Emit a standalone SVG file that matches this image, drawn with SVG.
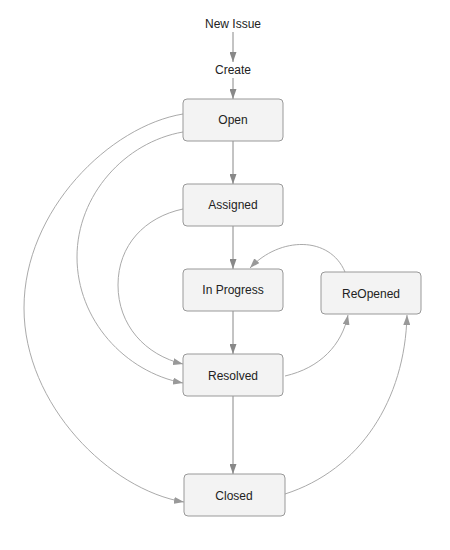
<svg xmlns="http://www.w3.org/2000/svg" width="450" height="550" viewBox="0 0 450 550">
<defs>
<style>
.node rect{fill:#f3f3f3;stroke:#999;stroke-width:1}
text{font-family:"Liberation Sans",Arial,sans-serif;font-size:12px;fill:#222;text-anchor:middle;dominant-baseline:central}
.edge{fill:none;stroke:#888;stroke-width:1}
.curve{fill:none;stroke:#aaa;stroke-width:1}
</style>
<marker id="ah" markerWidth="10" markerHeight="7" refX="10" refY="3.5" orient="auto" markerUnits="userSpaceOnUse">
<path d="M0,0 L10,3.5 L0,7 z" fill="#888"/>
</marker>
<marker id="ahl" markerWidth="10" markerHeight="7" refX="10" refY="3.5" orient="auto" markerUnits="userSpaceOnUse">
<path d="M0,0 L10,3.5 L0,7 z" fill="#999"/>
</marker>
</defs>
<rect width="450" height="550" fill="#fff"/>
<g id="connectors">
<line class="edge" x1="233" y1="32" x2="233" y2="62" marker-end="url(#ah)"/>
<line class="edge" x1="233" y1="78" x2="233" y2="99" marker-end="url(#ah)"/>
<line class="edge" x1="233" y1="141" x2="233" y2="184" marker-end="url(#ah)"/>
<line class="edge" x1="233" y1="226" x2="233" y2="269" marker-end="url(#ah)"/>
<line class="edge" x1="233" y1="311" x2="233" y2="354" marker-end="url(#ah)"/>
<line class="edge" x1="233" y1="396" x2="233" y2="474" marker-end="url(#ah)"/>
<path class="curve" d="M183,114 C110,126 24,210 24,308 C24,405 110,490 184,502" marker-end="url(#ahl)"/>
<path class="curve" d="M183,132 C125,142 77,195 77,257 C77,320 125,372 183,383" marker-end="url(#ahl)"/>
<path class="curve" d="M183,209 C145,217 118,245 118,285 C118,325 145,355 183,364" marker-end="url(#ahl)"/>
<path class="curve" d="M285,376 C320,368 342,345 348,315" marker-end="url(#ahl)"/>
<path class="curve" d="M285,494 C360,470 405,400 407,315" marker-end="url(#ahl)"/>
<path class="curve" d="M345,272 C330,236 280,236 250,268" marker-end="url(#ahl)"/>
</g>
<g id="new-issue"><text x="233" y="24">New Issue</text></g>
<g id="create"><text x="233" y="70">Create</text></g>
<g id="open" class="node"><rect x="183" y="99" width="100" height="42" rx="4"/><text x="233" y="120">Open</text></g>
<g id="assigned" class="node"><rect x="183" y="184" width="100" height="42" rx="4"/><text x="233" y="205">Assigned</text></g>
<g id="in-progress" class="node"><rect x="183" y="269" width="100" height="42" rx="4"/><text x="233" y="290">In Progress</text></g>
<g id="resolved" class="node"><rect x="183" y="354" width="100" height="42" rx="4"/><text x="233" y="376">Resolved</text></g>
<g id="closed" class="node"><rect x="184" y="474" width="101" height="42" rx="4"/><text x="234" y="496">Closed</text></g>
<g id="reopened" class="node"><rect x="321" y="272" width="100" height="42" rx="4"/><text x="371" y="294">ReOpened</text></g>
</svg>
